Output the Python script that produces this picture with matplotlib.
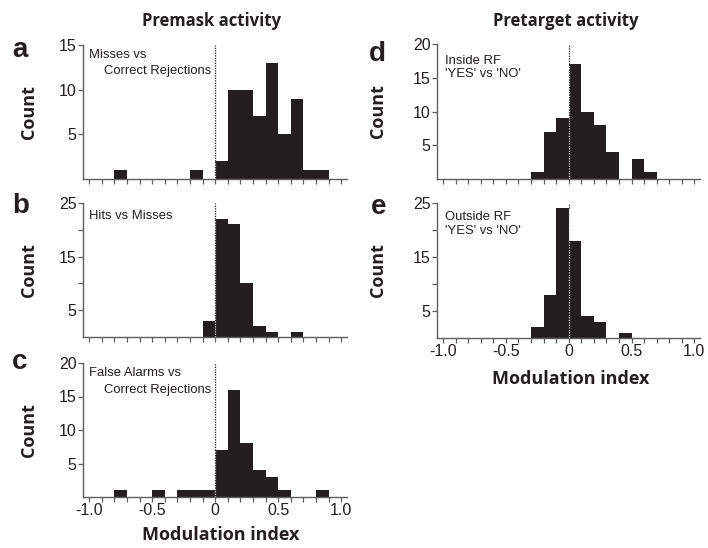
import matplotlib
matplotlib.use("Agg")
import matplotlib.pyplot as plt
from matplotlib.ticker import MultipleLocator, FixedLocator

# histogram bin edges (width 0.1) and counts
bin_edges = [-1.0, -0.9, -0.8, -0.7, -0.6, -0.5, -0.4, -0.3, -0.2, -0.1,
             0.0, 0.1, 0.2, 0.3, 0.4, 0.5, 0.6, 0.7, 0.8, 0.9, 1.0]

counts_a = [0, 0, 1, 0, 0, 0, 0, 0, 1, 0, 2, 10, 10, 7, 13, 5, 9, 1, 1, 0]
counts_b = [0, 0, 0, 0, 0, 0, 0, 0, 0, 3, 22, 21, 10, 2, 1, 0, 1, 0, 0, 0]
counts_c = [0, 0, 1, 0, 0, 1, 0, 1, 1, 1, 7, 16, 8, 4, 3, 1, 0, 0, 1, 0]
counts_d = [0, 0, 0, 0, 0, 0, 0, 1, 7, 9, 17, 10, 8, 4, 0, 3, 1, 0, 0, 0]
counts_e = [0, 0, 0, 0, 0, 0, 0, 2, 8, 24, 18, 4, 3, 0, 1, 0, 0, 0, 0, 0]

labels_a = ["Misses vs", "Correct Rejections"]
labels_b = ["Hits vs Misses"]
labels_c = ["False Alarms vs", "Correct Rejections"]
labels_d = ["Inside RF", "'YES' vs 'NO'"]
labels_e = ["Outside RF", "'YES' vs 'NO'"]

xticks = [-1.0, -0.5, 0, 0.5, 1.0]
xticklabels = ["-1.0", "-0.5", "0", "0.5", "1.0"]

INK = "#231f20"
AXC = "#5f5f5f"
TICKFONT = "Liberation Sans"
LABFONT = "Open Sans"

fig = plt.figure(figsize=(7.08, 5.48), dpi=100)
W, H = 708, 548


def make_axes(left, right, top, bottom):
    return fig.add_axes([left / W, 1 - bottom / H, (right - left) / W, (bottom - top) / H])


def draw_panel(ax, counts, ymax, major, minor, show_x):
    # one filled outline, so neighbouring bars merge without seams
    ax.stairs(counts, bin_edges, fill=True, color=INK, linewidth=0, zorder=2)
    ax.set_xlim(-1.048, 1.045)
    ax.set_ylim(0, ymax)
    for s in ("top", "right"):
        ax.spines[s].set_visible(False)
    for s in ("left", "bottom"):
        ax.spines[s].set_color(AXC)
        ax.spines[s].set_linewidth(1.0)
    ax.yaxis.set_major_locator(FixedLocator(major))
    ax.yaxis.set_minor_locator(FixedLocator(minor))
    ax.xaxis.set_major_locator(FixedLocator(xticks))
    ax.xaxis.set_minor_locator(MultipleLocator(0.1))
    ax.tick_params(which="both", direction="out", length=3.6, width=0.9,
                   color=AXC, labelsize=11.5, labelcolor=INK, pad=1)
    if show_x:
        ax.set_xticklabels(xticklabels, fontfamily=TICKFONT)
    else:
        ax.set_xticklabels([])
    for t in ax.get_yticklabels():
        t.set_fontfamily(TICKFONT)
    ax.set_ylabel("Count", fontfamily=LABFONT, fontweight="bold", fontsize=13, color=INK)

    # dotted zero line: light inside the bars, dark above them
    h0 = max(counts[9], counts[10])
    ax.plot([0, 0], [0, h0], ls=(0, (1, 1)), color="#d4d4d4", lw=0.9, zorder=3)
    ax.plot([0, 0], [h0, ymax], ls=(0, (1, 1)), color=INK, lw=0.9, zorder=3)


def note(ax, lines, x, y1, y2=None, right_x=None):
    kw = dict(transform=ax.transAxes, fontsize=9.4, fontfamily=TICKFONT,
              color=INK, va="top")
    ax.text(x, y1, lines[0], ha="left", **kw)
    if len(lines) > 1:
        if right_x is None:
            ax.text(x, y2, lines[1], ha="left", **kw)
        else:
            ax.text(right_x, y2, lines[1], ha="right", **kw)


ax_a = make_axes(83, 347, 45, 179)
ax_b = make_axes(83, 347, 203, 337)
ax_c = make_axes(83, 347, 363, 497)
ax_d = make_axes(437, 700, 44, 179)
ax_e = make_axes(437, 700, 203, 338)

draw_panel(ax_a, counts_a, 15, [5, 10, 15], [], False)
draw_panel(ax_b, counts_b, 25, [5, 15, 25], [10, 20], False)
draw_panel(ax_c, counts_c, 20, [5, 10, 15, 20], [], True)
draw_panel(ax_d, counts_d, 20, [5, 10, 15, 20], [], False)
draw_panel(ax_e, counts_e, 25, [5, 15, 25], [10, 20], True)

note(ax_a, labels_a, 0.022, 0.97, 0.85, right_x=0.486)
note(ax_b, labels_b, 0.022, 0.95)
note(ax_c, labels_c, 0.022, 0.97, 0.84, right_x=0.486)
note(ax_d, labels_d, 0.03, 0.92, 0.82)
note(ax_e, labels_e, 0.03, 0.94, 0.835)

for ax in (ax_a, ax_b, ax_c):
    ax.yaxis.set_label_coords(-0.17, 0.5)
for ax in (ax_d, ax_e):
    ax.yaxis.set_label_coords(-0.19, 0.5)

ax_c.set_xlabel("Modulation index", fontfamily=LABFONT, fontweight="bold", fontsize=13, color=INK)
ax_c.xaxis.set_label_coords(0.52, -0.215)
ax_e.set_xlabel("Modulation index", fontfamily=LABFONT, fontweight="bold", fontsize=13, color=INK)
ax_e.xaxis.set_label_coords(0.51, -0.235)

fig.text(211 / W, 1 - 21 / H, "Premask activity", ha="center", va="center",
         fontfamily=LABFONT, fontweight="bold", fontsize=12, color=INK)
fig.text(566 / W, 1 - 21 / H, "Pretarget activity", ha="center", va="center",
         fontfamily=LABFONT, fontweight="bold", fontsize=12, color=INK)

for letter, x, y in [("a", 12, 57), ("b", 12, 213), ("c", 12, 369),
                     ("d", 369, 61), ("e", 371, 214)]:
    fig.text(x / W, 1 - y / H, letter, ha="left", va="baseline",
             fontfamily=TICKFONT, fontweight="bold", fontsize=20, color=INK)

fig.savefig("out.png", dpi=100)
